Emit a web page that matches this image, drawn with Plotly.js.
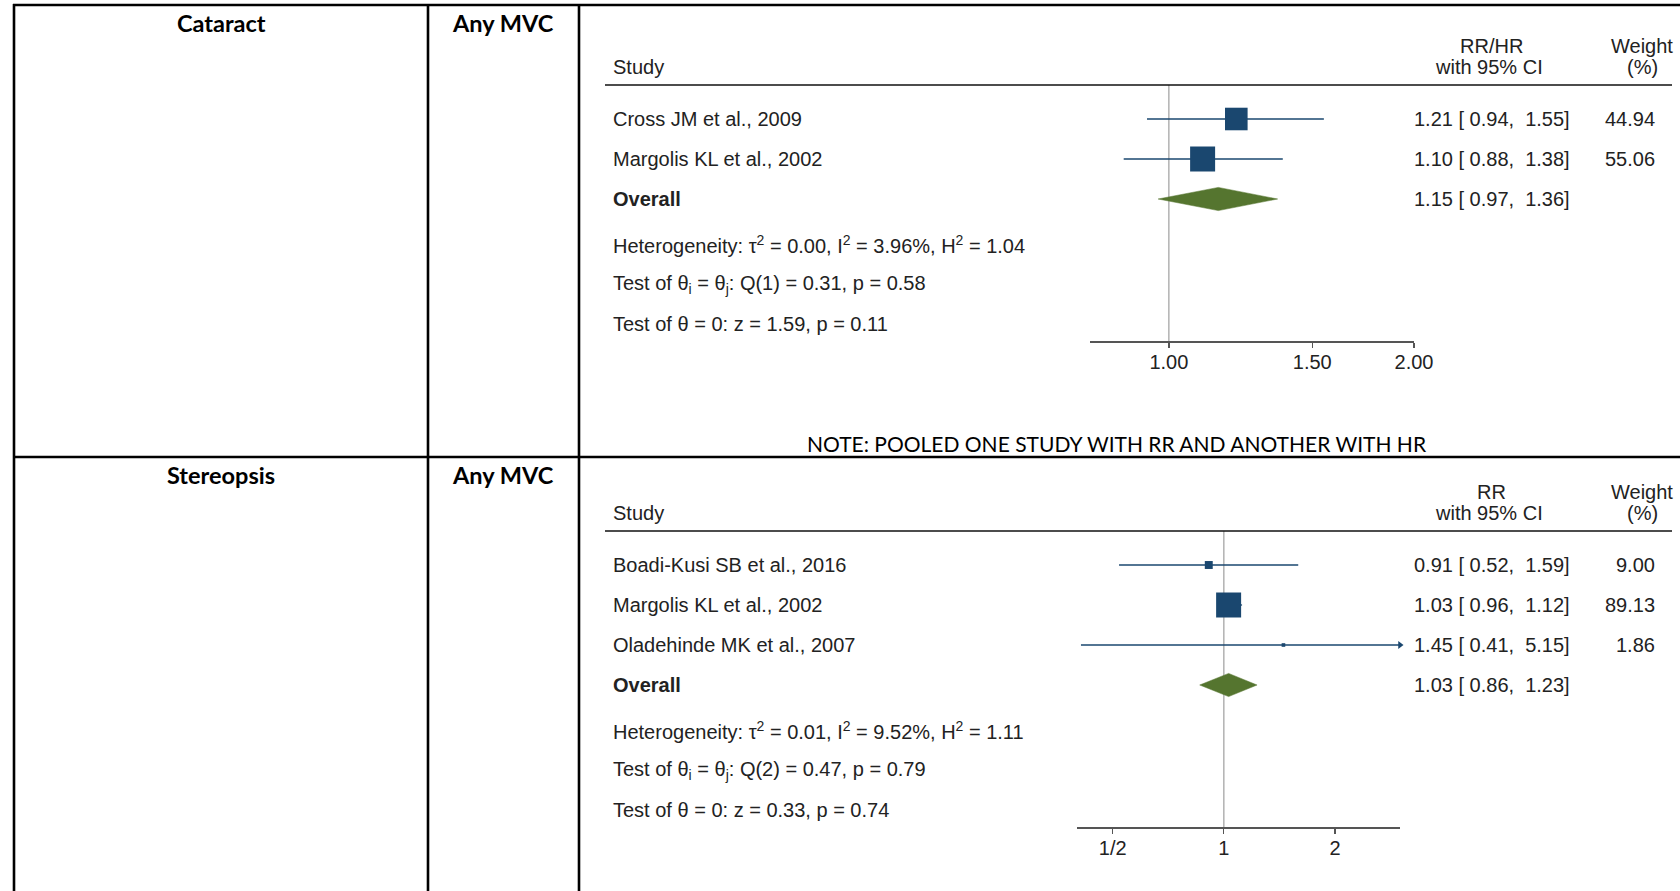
<!DOCTYPE html>
<html><head><meta charset="utf-8">
<script src="https://cdn.plot.ly/plotly-3.0.1.min.js"></script>
<style>html,body{margin:0;padding:0;background:#fff;} #chart{width:1680px;height:891px;}</style>
</head><body><div id="chart"></div>
<script>
// ---------------- data ----------------
const outcomes = ['Cataract', 'Stereopsis'];
const exposures = ['Any MVC', 'Any MVC'];
const effectLabels = ['RR/HR', 'RR'];
const noteText = 'NOTE: POOLED ONE STUDY WITH RR AND ANOTHER WITH HR';

// Panel A: Cataract
const studiesA = ['Cross JM et al., 2009', 'Margolis KL et al., 2002'];
const estA = [1.21, 1.10];
const loA = [0.94, 0.88];
const hiA = [1.55, 1.38];
const weightA = [44.94, 55.06];
const overallA = [1.15, 0.97, 1.36];      // estimate, lower, upper
const hetA = [0.00, 3.96, 1.04];          // tau2, I2 (%), H2
const qTestA = [1, 0.31, 0.58];           // df, Q, p
const zTestA = [1.59, 0.11];              // z, p
const ticksA = [1, 1.5, 2];
const tickTextA = ['1.00', '1.50', '2.00'];

// Panel B: Stereopsis
const studiesB = ['Boadi-Kusi SB et al., 2016', 'Margolis KL et al., 2002', 'Oladehinde MK et al., 2007'];
const estB = [0.91, 1.03, 1.45];
const loB = [0.52, 0.96, 0.41];
const hiB = [1.59, 1.12, 5.15];
const weightB = [9.00, 89.13, 1.86];
const overallB = [1.03, 0.86, 1.23];
const hetB = [0.01, 9.52, 1.11];
const qTestB = [2, 0.47, 0.79];
const zTestB = [0.33, 0.74];
const ticksB = [0.5, 1, 2];
const tickTextB = ['1/2', '1', '2'];

// ---------------- layout helpers ----------------
const W = 1680, H = 891;
const fx = p => p / W;
const fy = p => 1 - p / H;
const NAVY = '#1a476f', GREEN = '#55752f';
const TXT = {family: 'Liberation Sans, Arial, sans-serif', size: 20, color: '#222'};
const TAB = {family: 'Lato, sans-serif', size: 23.5, color: '#000'};
const NB = '\u00a0';
const ci = (e, l, h) => e.toFixed(2) + ' [' + NB + l.toFixed(2) + ',' + NB + NB + h.toFixed(2) + ']';

const traces = [], shapes = [], annotations = [];
const layout = {
  width: W, height: H, margin: {l: 0, r: 0, t: 0, b: 0},
  paper_bgcolor: '#fff', plot_bgcolor: 'rgba(0,0,0,0)', showlegend: false,
  shapes: shapes, annotations: annotations
};

function ann(text, x, y, xanchor, font, yref) {
  annotations.push({text: text, x: fx(x), xref: 'paper', y: yref ? y : fy(y), yref: yref || 'paper',
    xanchor: xanchor, yanchor: 'middle', showarrow: false, font: font || TXT});
}
function hline(x0, x1, y, w, c) {
  shapes.push({type: 'line', xref: 'paper', yref: 'paper', x0: fx(x0), x1: fx(x1), y0: fy(y), y1: fy(y),
    line: {color: c || '#000', width: w}});
}
function vline(x, y0, y1, w, c) {
  shapes.push({type: 'line', xref: 'paper', yref: 'paper', x0: fx(x), x1: fx(x), y0: fy(y0), y1: fy(y1),
    line: {color: c || '#000', width: w}});
}

// ---------------- table grid ----------------
const BORDER = 2.6;
hline(13, 1680, 5, BORDER);
hline(13, 1680, 457, BORDER);
vline(14, 4, 891, BORDER);
vline(428, 4, 891, BORDER);
vline(579, 4, 891, BORDER);

const rowTextY = [23, 475];
outcomes.forEach((o, i) => {
  ann('<b>' + o + '</b>', 221, rowTextY[i], 'center', TAB);
  ann('<b>' + exposures[i] + '</b>', 503, rowTextY[i], 'center', TAB);
});
ann(noteText, 1117, 444, 'center', {family: 'Lato, sans-serif', size: 21, color: '#000'});

// ---------------- forest panels ----------------
const panels = [
  {studies: studiesA, est: estA, lo: loA, hi: hiA, w: weightA, overall: overallA, het: hetA, q: qTestA, z: zTestA,
   ticks: ticksA, tickText: tickTextA, label: effectLabels[0], xRange: [0.8, 2.0], xDom: [1090, 1414], ruleY: 85, sfx: ''},
  {studies: studiesB, est: estB, lo: loB, hi: hiB, w: weightB, overall: overallB, het: hetB, q: qTestB, z: zTestB,
   ticks: ticksB, tickText: tickTextB, label: effectLabels[1], xRange: [0.4, 3.0], xDom: [1077, 1400], ruleY: 531, sfx: '2'}
];

const ROW = 40, LEFT = 611, CIX = 1412, WX = 1657;
panels.forEach(p => {
  const xa = 'x' + p.sfx, ya = 'y' + p.sfx;
  const n = p.studies.length;
  const rows = p.studies.map((s, i) => i + 1);
  const rOverall = n + 1, rHet = n + 2.125, rQ = n + 3.125, rZ = n + 4.125;
  const yTop = 0.15, yBot = n + 4.55;
  const botPx = p.ruleY + (yBot - yTop) * ROW;

  layout['xaxis' + p.sfx] = {
    domain: [fx(p.xDom[0]), fx(p.xDom[1])], type: 'log',
    range: [Math.log10(p.xRange[0]), Math.log10(p.xRange[1])], anchor: ya,
    tickmode: 'array', tickvals: p.ticks, ticktext: p.tickText,
    ticks: 'outside', ticklen: 5, tickwidth: 1.2, tickcolor: '#555', ticklabelstandoff: -3,
    showline: true, linecolor: '#555', linewidth: 1.5, showgrid: false, zeroline: false,
    tickfont: TXT, fixedrange: true
  };
  layout['yaxis' + p.sfx] = {
    domain: [fy(botPx), fy(p.ruleY)], range: [yBot, yTop], anchor: xa,
    visible: false, showgrid: false, zeroline: false, fixedrange: true
  };

  // reference line at 1
  shapes.push({type: 'line', xref: xa, yref: ya + ' domain', x0: 1, x1: 1, y0: 0, y1: 1,
    line: {color: '#8a8a8a', width: 1}, layer: 'below'});
  // header rule
  hline(605, 1672, p.ruleY, 1.6, '#111');

  // CI lines
  const lx = [], ly = [];
  rows.forEach((r, i) => { lx.push(p.lo[i], p.hi[i], null); ly.push(r, r, null); });
  traces.push({type: 'scatter', mode: 'lines', x: lx, y: ly, xaxis: xa, yaxis: ya,
    line: {color: NAVY, width: 1.3}, hoverinfo: 'skip'});
  // boxes (area proportional to weight)
  const wmax = Math.max.apply(null, p.w);
  traces.push({type: 'scatter', mode: 'markers', x: p.est, y: rows, xaxis: xa, yaxis: ya,
    marker: {symbol: 'square', color: NAVY, opacity: 1, size: p.w.map(w => 25 * Math.sqrt(w / wmax)), line: {width: 0}},
    hoverinfo: 'skip'});
  // arrows for truncated CIs
  const ax = [], ay = [];
  rows.forEach((r, i) => { if (p.hi[i] > p.xRange[1]) { ax.push(p.xRange[1]); ay.push(r); } });
  if (ax.length) traces.push({type: 'scatter', mode: 'markers', x: ax, y: ay, xaxis: xa, yaxis: ya,
    cliponaxis: false, marker: {symbol: 'triangle-right', size: 7, color: NAVY, opacity: 1}, hoverinfo: 'skip'});
  // overall diamond
  const o = p.overall, hh = 0.29;
  traces.push({type: 'scatter', mode: 'lines', x: [o[1], o[0], o[2], o[0], o[1]],
    y: [rOverall, rOverall - hh, rOverall, rOverall + hh, rOverall], xaxis: xa, yaxis: ya,
    fill: 'toself', fillcolor: GREEN, line: {color: GREEN, width: 0.5}, hoverinfo: 'skip'});

  // header texts
  ann(p.label, 1491, p.ruleY - 39, 'center');
  ann('Weight', 1642, p.ruleY - 39, 'center');
  ann('Study', LEFT, p.ruleY - 18, 'left');
  ann('with 95% CI', 1489, p.ruleY - 18, 'center');
  ann('(%)', 1642, p.ruleY - 18, 'center');

  // rows
  p.studies.forEach((s, i) => {
    ann(s, LEFT, rows[i], 'left', TXT, ya);
    ann(ci(p.est[i], p.lo[i], p.hi[i]), CIX, rows[i], 'left', TXT, ya);
    ann(p.w[i].toFixed(2), WX, rows[i], 'right', TXT, ya);
  });
  ann('<b>Overall</b>', LEFT, rOverall, 'left', TXT, ya);
  ann(ci(o[0], o[1], o[2]), CIX, rOverall, 'left', TXT, ya);
  ann('Heterogeneity: τ<sup>2</sup> = ' + p.het[0].toFixed(2) + ', I<sup>2</sup> = ' + p.het[1].toFixed(2) +
      '%, H<sup>2</sup> = ' + p.het[2].toFixed(2), LEFT, rHet, 'left', TXT, ya);
  ann('Test of θ<sub>i</sub> = θ<sub>j</sub>: Q(' + p.q[0] + ') = ' + p.q[1].toFixed(2) + ', p = ' + p.q[2].toFixed(2),
      LEFT, rQ, 'left', TXT, ya);
  ann('Test of θ = 0: z = ' + p.z[0].toFixed(2) + ', p = ' + p.z[1].toFixed(2), LEFT, rZ, 'left', TXT, ya);
});

Plotly.newPlot('chart', traces, layout, {displayModeBar: false, staticPlot: true});
</script>
</body></html>
